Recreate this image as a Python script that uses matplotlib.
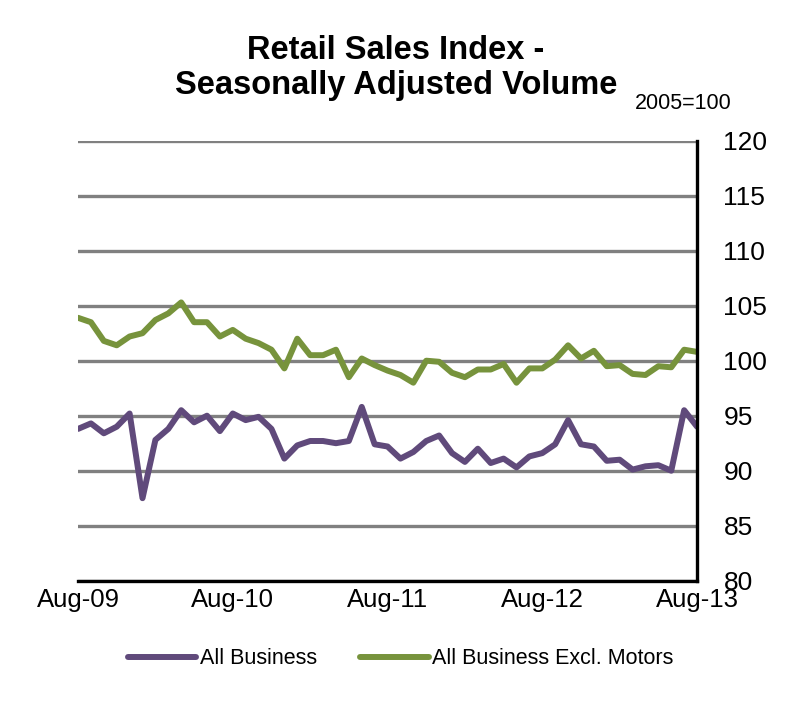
import numpy as np
import matplotlib
matplotlib.use('Agg')
import matplotlib.pyplot as plt

plt.rcParams['font.family'] = ['Liberation Sans', 'DejaVu Sans']

# monthly, Aug-09 .. Aug-13 (49 months, category axis)
tick_labels = ['Aug-09', 'Aug-10', 'Aug-11', 'Aug-12', 'Aug-13']

all_business = [93.8, 94.3, 93.4, 94.0, 95.2, 87.5, 92.8, 93.8, 95.5, 94.4,
                95.0, 93.6, 95.2, 94.6, 94.9, 93.8, 91.1, 92.3, 92.7, 92.7,
                92.5, 92.7, 95.8, 92.4, 92.2, 91.1, 91.7, 92.7, 93.2, 91.6,
                90.8, 92.0, 90.7, 91.1, 90.3, 91.3, 91.6, 92.4, 94.6, 92.4,
                92.2, 90.9, 91.0, 90.1, 90.4, 90.5, 90.0, 95.5, 94.0]
excl_motors = [103.9, 103.5, 101.8, 101.4, 102.2, 102.5, 103.7, 104.3, 105.3, 103.5,
               103.5, 102.2, 102.8, 102.0, 101.6, 101.0, 99.3, 102.0, 100.5, 100.5,
               101.0, 98.5, 100.2, 99.6, 99.1, 98.7, 98.0, 100.0, 99.9, 98.9,
               98.5, 99.2, 99.2, 99.7, 98.0, 99.3, 99.3, 100.1, 101.4, 100.2,
               100.9, 99.5, 99.6, 98.8, 98.7, 99.5, 99.4, 101.0, 100.8]

purple = '#604A7B'
green = '#77933C'

x = np.arange(len(all_business))

fig = plt.figure(figsize=(7.93, 7.01), dpi=100)
ax = fig.add_axes([0.0984, 0.1716, 0.7806, 0.6277])

ax.plot(x, all_business, color=purple, lw=4.3, label='All Business',
        solid_joinstyle='round', solid_capstyle='round')
ax.plot(x, excl_motors, color=green, lw=4.3, label='All Business Excl. Motors',
        solid_joinstyle='round', solid_capstyle='round')

ax.set_ylim(80, 120)
ax.set_yticks(np.arange(80, 121, 5))
ax.set_xlim(x[0], x[-1])
ax.set_xticks(x[::12])
ax.set_xticklabels(tick_labels)

ax.yaxis.tick_right()
ax.grid(axis='y', color='#808080', lw=2.4)
ax.set_axisbelow(True)
for s in ['left', 'top']:
    ax.spines[s].set_visible(False)
for s in ['right', 'bottom']:
    ax.spines[s].set_color('black')
    ax.spines[s].set_linewidth(2.4)
ax.tick_params(axis='y', length=0, pad=19, labelsize=19)
ax.tick_params(axis='x', length=0, pad=5, labelsize=18.5)

fig.text(0.4994, 0.903, 'Retail Sales Index -\nSeasonally Adjusted Volume',
         ha='center', va='center', fontsize=23.5, fontweight='bold', linespacing=1.18)
fig.text(0.923, 0.852, '2005=100', ha='right', va='center', fontsize=15.5)

fig.legend(loc='center', bbox_to_anchor=(0.505, 0.06), ncol=2, frameon=False,
           fontsize=15.5, handlelength=3.2, handletextpad=0.15, columnspacing=2.0)

fig.savefig('out.png', dpi=100)
